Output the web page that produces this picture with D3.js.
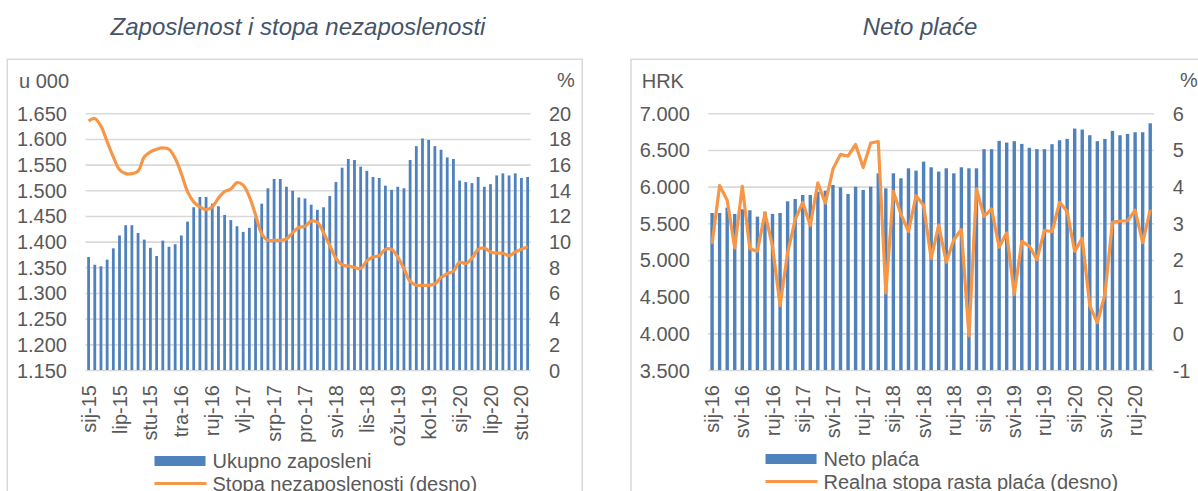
<!DOCTYPE html>
<html>
<head>
<meta charset="utf-8">
<script src="https://cdn.jsdelivr.net/npm/d3@7"></script>
<style>
    body { margin: 0; background: #fff; }
    text { font-family: "Liberation Sans", Arial, sans-serif; }
</style>
</head>
<body>
<svg id="plot"></svg>
<script>
// Data - left chart (Jan 2015 - Dec 2020)
const months = ['sij', 'vlj', 'ožu', 'tra', 'svi', 'lip', 'srp', 'kol', 'ruj', 'lis', 'stu', 'pro'];

const empMonths = [];
for (let y = 15; y <= 20; y++) months.forEach(m => empMonths.push(m + '-' + y));

const employed = [1370, 1355, 1352, 1365, 1387, 1412, 1432, 1432, 1417, 1404,
    1388, 1372, 1402, 1390, 1395, 1412, 1439, 1467, 1487, 1487,
    1474, 1469, 1452, 1442, 1430, 1419, 1427, 1447, 1474, 1504,
    1522, 1522, 1507, 1499, 1486, 1484, 1472, 1462, 1467, 1489,
    1516, 1544, 1561, 1559, 1546, 1538, 1526, 1524, 1509, 1501,
    1507, 1504, 1559, 1586, 1601, 1598, 1586, 1579, 1564, 1561,
    1519, 1516, 1514, 1526, 1507, 1512, 1529, 1533, 1529, 1533, 1524, 1526];

const unemploymentRate = [19.4, 19.6, 19.0, 17.8, 16.6, 15.6, 15.3, 15.3, 15.5, 16.6,
    17.0, 17.2, 17.3, 17.2, 16.5, 15.3, 13.9, 13.1, 12.7, 12.5,
    12.7, 13.4, 13.9, 14.1, 14.6, 14.4, 13.5, 12.1, 10.6, 10.1,
    10.1, 10.1, 10.2, 10.7, 11.1, 11.2, 11.6, 11.5, 10.7, 9.7,
    8.7, 8.2, 8.1, 8.0, 7.9, 8.5, 8.8, 8.9, 9.4, 9.4,
    8.8, 7.9, 6.9, 6.6, 6.6, 6.6, 6.7, 7.2, 7.5, 7.7,
    8.4, 8.3, 8.7, 9.4, 9.5, 9.2, 9.1, 9.1, 8.9, 9.2, 9.4, 9.6];

const empTicks = [1150, 1200, 1250, 1300, 1350, 1400, 1450, 1500, 1550, 1600, 1650];
const rateTicks = [0, 2, 4, 6, 8, 10, 12, 14, 16, 18, 20];

// Data - right chart (Jan 2016 - Nov 2020)
const wageMonths = [];
for (let y = 16; y <= 20; y++) months.forEach(m => wageMonths.push(m + '-' + y));
wageMonths.pop();

const netWage = [5641, 5641, 5714, 5628, 5691, 5678, 5591, 5659, 5628, 5641,
    5800, 5832, 5886, 5886, 5931, 5945, 6023, 5991, 5900, 6000,
    5955, 6000, 6182, 5977, 6182, 6114, 6250, 6218, 6341, 6264,
    6205, 6250, 6182, 6264, 6250, 6250, 6511, 6511, 6624, 6601,
    6620, 6583, 6529, 6511, 6511, 6579, 6633, 6651, 6792, 6778,
    6701, 6620, 6651, 6760, 6701, 6719, 6742, 6742, 6864];

const realWageGrowth = [2.44, 4.03, 3.63, 2.33, 4.01, 2.31, 2.24, 3.28, 2.38, 0.76,
    2.20, 3.10, 3.57, 2.94, 4.10, 3.55, 4.48, 4.88, 4.83, 5.15,
    4.52, 5.19, 5.23, 1.10, 3.87, 3.25, 2.78, 3.75, 3.49, 2.04,
    2.95, 1.94, 2.55, 2.83, -0.07, 3.94, 3.19, 3.39, 2.35, 2.74,
    1.06, 2.51, 2.38, 2.01, 2.81, 2.77, 3.57, 3.33, 2.24, 2.59,
    0.75, 0.29, 1.06, 3.03, 3.06, 3.07, 3.36, 2.47, 3.37];

const wageTicks = [3500, 4000, 4500, 5000, 5500, 6000, 6500, 7000];
const growthTicks = [-1, 0, 1, 2, 3, 4, 5, 6];

let width = 1198;
let height = 491;

const hr = d3.formatLocale({ decimal: ',', thousands: '.', grouping: [3], currency: ['', ''], minus: '-' });
const fmt = hr.format(',.0f');

let svg = d3.select('#plot')
    .attr('width', width)
    .attr('height', height)
    .style('background', '#FFFFFF');

function drawPanel(p) {
    let g = svg.append('g');

    // panel frame
    g.append('rect')
        .attr('x', p.box[0]).attr('y', 59.3)
        .attr('width', p.box[1]).attr('height', 500)
        .attr('fill', 'none')
        .attr('stroke', '#d9d9d9')
        .attr('stroke-width', 1.5);

    g.append('text')
        .attr('x', p.titleX).attr('y', 35)
        .attr('text-anchor', 'middle')
        .style('font-size', '24px')
        .style('font-style', 'italic')
        .style('fill', '#44546A')
        .text(p.title);

    let xScale = d3.scaleBand()
        .domain(p.cats)
        .range([p.left, p.right])
        .paddingInner(0.55)
        .paddingOuter(0.275);

    let yScale = d3.scaleLinear()
        .domain(d3.extent(p.leftTicks))
        .range([370, 113.3]);

    let y2Scale = d3.scaleLinear()
        .domain(d3.extent(p.rightTicks))
        .range([370, 113.3]);

    // gridlines + left labels
    let yAxis = g.append('g')
        .attr('transform', `translate(${p.left}, 0)`)
        .call(d3.axisLeft(yScale).tickValues(p.leftTicks).tickFormat(fmt)
            .tickSize(-(p.right - p.left)).tickPadding(18.5));
    yAxis.select('.domain').remove();
    yAxis.selectAll('line').attr('stroke', '#d9d9d9').attr('stroke-width', 1.6);
    yAxis.selectAll('text').style('font-size', '20px').style('fill', '#595959').attr('dy', '0.35em');

    let y2Axis = g.append('g')
        .attr('transform', `translate(${p.right}, 0)`)
        .call(d3.axisRight(y2Scale).tickValues(p.rightTicks).tickFormat(fmt)
            .tickSize(0).tickPadding(p.rightPad));
    y2Axis.select('.domain').remove();
    y2Axis.selectAll('text').style('font-size', '20px').style('fill', '#595959').attr('dy', '0.35em');

    // unit labels
    g.append('text').attr('x', p.unitX).attr('y', 88)
        .style('font-size', '20px').style('fill', '#595959').text(p.unit);
    g.append('text').attr('x', p.pctX).attr('y', 87)
        .style('font-size', '20px').style('fill', '#595959').text('%');

    // bars
    g.selectAll('rect.bar')
        .data(p.bars)
        .enter()
        .append('rect')
        .attr('class', 'bar')
        .attr('x', (d, i) => xScale(p.cats[i]))
        .attr('y', d => yScale(d))
        .attr('width', xScale.bandwidth())
        .attr('height', d => 370 - yScale(d))
        .attr('fill', '#4F81BD');

    // line
    let line = d3.line()
        .x((d, i) => xScale(p.cats[i]) + xScale.bandwidth() / 2)
        .y(d => y2Scale(d))
        .curve(p.curve);

    g.append('path')
        .datum(p.line)
        .attr('fill', 'none')
        .attr('stroke', '#F79646')
        .attr('stroke-width', 3.2)
        .attr('stroke-linejoin', 'round')
        .attr('d', line);

    // x axis labels
    let xAxis = g.append('g')
        .attr('transform', 'translate(0, 370)')
        .call(d3.axisBottom(xScale)
            .tickValues(p.cats.filter((d, i) => i % p.every === 0))
            .tickSize(0));
    xAxis.select('.domain').remove();
    xAxis.selectAll('text')
        .style('font-size', '20px')
        .style('fill', '#595959')
        .style('text-anchor', 'end')
        .attr('transform', 'rotate(-90)')
        .attr('x', -15)
        .attr('y', 0)
        .attr('dy', '0.35em');

    // legend
    let legend = g.append('g');
    legend.append('rect')
        .attr('x', p.legX).attr('y', p.legY - 5)
        .attr('width', 51).attr('height', 10)
        .attr('fill', '#4F81BD');
    legend.append('text')
        .attr('x', p.legX + 58).attr('y', p.legY + 7)
        .style('font-size', '20px').style('fill', '#595959')
        .text(p.legBar);
    legend.append('line')
        .attr('x1', p.legX).attr('x2', p.legX + 52)
        .attr('y1', p.legY + 22.5).attr('y2', p.legY + 22.5)
        .attr('stroke', '#F79646').attr('stroke-width', 3.2);
    legend.append('text')
        .attr('x', p.legX + 58).attr('y', p.legY + 29.5)
        .style('font-size', '20px').style('fill', '#595959')
        .text(p.legLine);
}

drawPanel({
    box: [7.3, 575],
    title: 'Zaposlenost i stopa nezaposlenosti',
    titleX: 298,
    cats: empMonths,
    bars: employed,
    line: unemploymentRate,
    leftTicks: empTicks,
    rightTicks: rateTicks,
    left: 85.5,
    right: 530.7,
    rightPad: 18.3,
    unit: 'u 000',
    unitX: 19,
    pctX: 557,
    every: 5,
    curve: d3.curveCatmullRom,
    legX: 154.5,
    legY: 461,
    legBar: 'Ukupno zaposleni',
    legLine: 'Stopa nezaposlenosti (desno)'
});

drawPanel({
    box: [631, 600],
    title: 'Neto plaće',
    titleX: 920,
    cats: wageMonths,
    bars: netWage,
    line: realWageGrowth,
    leftTicks: wageTicks,
    rightTicks: growthTicks,
    left: 708.3,
    right: 1154,
    rightPad: 18.7,
    unit: 'HRK',
    unitX: 641.7,
    pctX: 1180,
    every: 4,
    curve: d3.curveLinear,
    legX: 765.5,
    legY: 459,
    legBar: 'Neto plaća',
    legLine: 'Realna stopa rasta plaća (desno)'
});
</script>
</body>
</html>
